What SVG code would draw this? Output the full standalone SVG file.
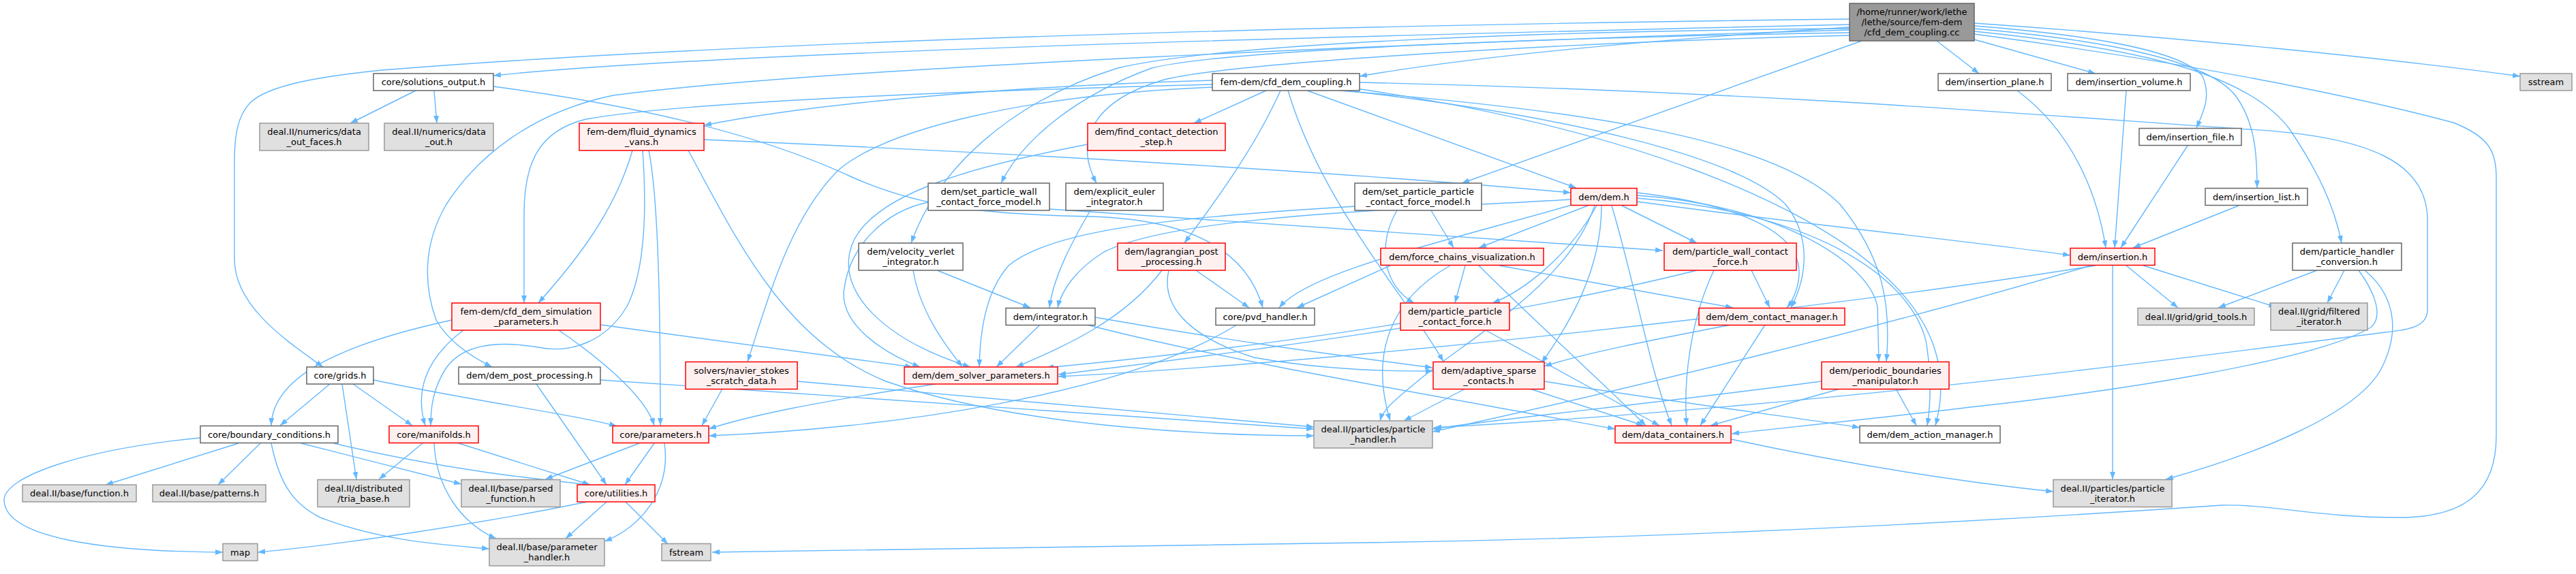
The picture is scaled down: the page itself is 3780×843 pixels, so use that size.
<svg xmlns="http://www.w3.org/2000/svg" width="3780" height="843" viewBox="0 0 3780 843">
<style>
.e{fill:none;stroke:#63b8ff;stroke-width:1.4;marker-end:url(#a)}
.n rect{stroke-width:1.5}
.w rect{fill:#ffffff;stroke:#666666}
.r rect{fill:#fff0f0;stroke:#ff0000}
.g rect{fill:#e0e0e0;stroke:#999999}
.t rect{fill:#999999;stroke:#666666}
text{font-family:"DejaVu Sans","Liberation Sans",sans-serif;font-size:13px;text-anchor:middle;fill:#000000}
</style>
<defs>
<marker id="a" markerWidth="11" markerHeight="8" refX="11" refY="4" orient="auto" markerUnits="userSpaceOnUse"><path d="M0,0 L11,4 L0,8 z" fill="#63b8ff"/></marker>
</defs>
<rect width="3780" height="843" fill="#ffffff"/>
<g id="edges">
<path class="e" d="M2714,36 C2200,48 1100,72 724,111"/>
<path class="e" d="M2714,28 C2200,34 1200,52 560,103 C470,112 395,125 368,150 C348,170 344,200 344,240 L344,380 C344,450 420,500 474,539"/>
<path class="e" d="M2714,40 C2400,60 2150,85 1995,112"/>
<path class="e" d="M2714,44 C2100,62 1200,100 900,140 C780,165 700,230 655,300 C620,360 622,420 640,470 C660,505 700,528 722,539"/>
<path class="e" d="M2732,60 L2145,269"/>
<path class="e" d="M2714,48 C2300,55 1800,72 1690,100 C1580,140 1500,205 1469,269"/>
<path class="e" d="M2714,52 C2300,62 1800,92 1705,118 C1605,148 1575,205 1609,269"/>
<path class="e" d="M2714,42 C2300,45 1800,62 1640,100 C1480,150 1375,250 1337,357"/>
<path class="e" d="M2842,60 L2904,108"/>
<path class="e" d="M2897,58 L3075,108"/>
<path class="e" d="M2897,38 C3050,50 3200,72 3232,112 C3245,142 3233,165 3223,188"/>
<path class="e" d="M2897,42 C3100,60 3240,90 3280,140 C3310,180 3312,230 3312,276"/>
<path class="e" d="M2897,46 C3150,72 3300,110 3360,190 C3400,250 3425,300 3436,357"/>
<path class="e" d="M2897,34 C3200,55 3500,85 3698,112"/>
<path class="e" d="M2897,50 C3200,90 3450,140 3600,180 C3650,200 3663,220 3663,260 L3663,640 C3663,720 3620,760 3520,760 C3400,760 3330,740 3260,742 C3000,760 2500,790 2000,797 C1600,803 1200,808 1045,811"/>
<path class="e" d="M1779,118 C1500,126 1200,150 1033,184"/>
<path class="e" d="M1779,124 C1400,134 1000,150 860,175 C790,192 770,240 769,310 L769,445"/>
<path class="e" d="M1858,133 L1752,181"/>
<path class="e" d="M1879,133 C1840,220 1780,300 1738,357"/>
<path class="e" d="M1918,133 L2313,276"/>
<path class="e" d="M1890,133 C1940,300 2060,430 2118,531"/>
<path class="e" d="M1966,133 C2300,160 2600,200 2700,300 C2765,380 2775,450 2768,531"/>
<path class="e" d="M1990,130 C2400,190 2650,300 2760,400 C2850,480 2858,560 2840,625"/>
<path class="e" d="M1975,133 C2300,170 2550,230 2620,300 C2660,350 2650,410 2628,452"/>
<path class="e" d="M1995,121 C2600,135 3000,170 3300,190 C3480,200 3560,240 3562,320 L3562,455 C3562,478 3540,484 3500,488 C3250,520 2700,595 2104,628"/>
<path class="e" d="M1779,128 C1500,140 1300,190 1230,250 C1160,320 1130,430 1097,531"/>
<path class="e" d="M610,133 L514,181"/>
<path class="e" d="M637,133 L641,181"/>
<path class="e" d="M724,127 C900,150 1100,190 1250,260 C1350,305 1450,315 1600,318 C1750,322 1830,370 1853,452"/>
<path class="e" d="M928,221 C900,320 830,400 790,445"/>
<path class="e" d="M943,221 C950,320 945,400 920,450 C890,500 840,520 790,510 C730,500 680,505 655,540 C635,570 632,600 632,625"/>
<path class="e" d="M952,221 C968,300 969,500 969,625"/>
<path class="e" d="M1033,205 C1500,225 2000,255 2305,283"/>
<path class="e" d="M1010,221 C1080,350 1150,500 1300,560 C1500,630 1800,640 1928,640"/>
<path class="e" d="M663,470 C480,510 400,560 398,625"/>
<path class="e" d="M680,485 C620,530 610,580 624,625"/>
<path class="e" d="M820,485 C900,540 950,590 960,625"/>
<path class="e" d="M881,477 L1339,539"/>
<path class="e" d="M1596,212 C1450,240 1280,280 1250,360 C1225,430 1300,500 1424,539"/>
<path class="e" d="M1362,297 C1300,310 1245,360 1238,430 C1236,480 1300,520 1350,539"/>
<path class="e" d="M1540,307 C1900,330 2200,350 2440,368"/>
<path class="e" d="M1600,309 C1570,360 1545,410 1540,452"/>
<path class="e" d="M1375,397 L1512,452"/>
<path class="e" d="M1340,397 C1350,460 1390,510 1412,539"/>
<path class="e" d="M1755,397 L1833,452"/>
<path class="e" d="M1705,397 C1650,470 1560,510 1491,539"/>
<path class="e" d="M1715,397 C1705,440 1730,490 1840,525 C1950,545 2050,545 2103,545"/>
<path class="e" d="M2100,309 L2133,364"/>
<path class="e" d="M2050,309 C2020,360 2030,420 2075,445"/>
<path class="e" d="M1990,303 C1700,320 1540,340 1480,390 C1445,430 1438,490 1437,539"/>
<path class="e" d="M2305,293 C2000,310 1720,320 1620,370 C1580,395 1558,425 1552,452"/>
<path class="e" d="M2310,300 C2100,360 1920,400 1877,452"/>
<path class="e" d="M2330,302 L2170,364"/>
<path class="e" d="M2343,302 C2300,380 2230,430 2190,445"/>
<path class="e" d="M2350,302 C2350,400 2300,480 2262,533"/>
<path class="e" d="M2340,302 C2300,420 2150,500 2080,560 C2050,585 2030,600 2025,618"/>
<path class="e" d="M2365,302 C2400,420 2420,540 2453,625"/>
<path class="e" d="M2380,302 L2490,357"/>
<path class="e" d="M2402,283 C2550,300 2640,340 2640,400 C2640,420 2632,440 2622,452"/>
<path class="e" d="M2402,287 C2600,300 2740,380 2755,450 L2757,531"/>
<path class="e" d="M2402,291 C2650,310 2800,400 2826,500 C2836,560 2832,600 2828,625"/>
<path class="e" d="M2402,296 C2650,330 2900,355 3038,375"/>
<path class="e" d="M2040,390 L1903,452"/>
<path class="e" d="M2128,390 C2040,440 2010,520 2040,618"/>
<path class="e" d="M2150,390 L2135,445"/>
<path class="e" d="M2200,390 L2543,452"/>
<path class="e" d="M2170,390 C2250,470 2350,560 2415,625"/>
<path class="e" d="M2570,397 L2597,452"/>
<path class="e" d="M2490,397 C2200,470 1800,520 1553,550"/>
<path class="e" d="M2515,397 C2480,470 2470,560 2475,625"/>
<path class="e" d="M2180,485 L2435,625"/>
<path class="e" d="M2055,475 C1900,500 1700,525 1535,540"/>
<path class="e" d="M2540,477 C2420,500 2320,520 2266,538"/>
<path class="e" d="M2590,477 L2495,625"/>
<path class="e" d="M1526,477 L1462,539"/>
<path class="e" d="M1607,466 C1800,500 1950,520 2102,540"/>
<path class="e" d="M1595,477 C1800,530 2100,580 2370,630"/>
<path class="e" d="M1815,477 C1650,580 1300,630 1040,640"/>
<path class="e" d="M2150,571 L2060,618"/>
<path class="e" d="M2245,571 L2412,625"/>
<path class="e" d="M2266,560 C2450,590 2650,615 2729,628"/>
<path class="e" d="M2673,560 C2450,590 2200,615 2102,630"/>
<path class="e" d="M2700,571 L2510,625"/>
<path class="e" d="M2782,571 L2812,625"/>
<path class="e" d="M2540,645 C2750,690 2900,710 3013,722"/>
<path class="e" d="M3120,390 L3196,452"/>
<path class="e" d="M3145,390 L3340,451"/>
<path class="e" d="M3100,390 L3100,704"/>
<path class="e" d="M3068,390 C2800,470 2400,570 2102,634"/>
<path class="e" d="M3075,390 C2700,450 2000,530 1553,553"/>
<path class="e" d="M3400,397 L3255,452"/>
<path class="e" d="M3440,397 L3415,445"/>
<path class="e" d="M3470,397 C3510,430 3525,480 3495,540 C3460,610 3300,670 3178,704"/>
<path class="e" d="M3461,397 C3478,420 3500,460 3480,480 C3400,530 3100,575 2900,597 C2750,615 2600,630 2541,637"/>
<path class="e" d="M2960,133 C3050,200 3080,300 3090,364"/>
<path class="e" d="M3120,133 L3103,364"/>
<path class="e" d="M3210,214 L3112,364"/>
<path class="e" d="M3285,302 L3130,364"/>
<path class="e" d="M484,564 L411,625"/>
<path class="e" d="M502,564 L523,704"/>
<path class="e" d="M518,564 L605,625"/>
<path class="e" d="M548,558 C700,590 850,610 905,626"/>
<path class="e" d="M787,564 L890,712"/>
<path class="e" d="M881,558 C1300,590 1700,615 1928,630"/>
<path class="e" d="M1060,571 L1030,625"/>
<path class="e" d="M1170,560 C1500,590 1800,615 1928,627"/>
<path class="e" d="M1373,564 C1200,590 1100,610 1040,630"/>
<path class="e" d="M350,651 L155,712"/>
<path class="e" d="M382,651 L320,712"/>
<path class="e" d="M398,651 C410,710 430,740 470,760 C560,795 650,800 718,806"/>
<path class="e" d="M294,643 C120,660 5,700 6,735 C8,790 150,810 327,811"/>
<path class="e" d="M442,651 L677,711"/>
<path class="e" d="M490,651 C650,690 800,705 866,712"/>
<path class="e" d="M620,651 L556,704"/>
<path class="e" d="M637,651 C640,720 680,770 728,791"/>
<path class="e" d="M673,651 L866,712"/>
<path class="e" d="M938,651 L800,704"/>
<path class="e" d="M960,651 L917,712"/>
<path class="e" d="M975,651 C985,720 940,775 887,795"/>
<path class="e" d="M862,737 C700,770 500,800 378,811"/>
<path class="e" d="M890,737 L830,791"/>
<path class="e" d="M918,737 L980,799"/>
</g>
<g id="n_top" class="n t"><rect x="2714" y="5" width="183" height="55"/><text x="2805.5" y="22">/home/runner/work/lethe</text><text x="2805.5" y="37">/lethe/source/fem-dem</text><text x="2805.5" y="52">/cfd_dem_coupling.cc</text></g>
<g id="n_solutions_output" class="n w"><rect x="548" y="108" width="176" height="25"/><text x="636" y="125">core/solutions_output.h</text></g>
<g id="n_data_out_faces" class="n g"><rect x="381" y="181" width="160" height="40"/><text x="461" y="198">deal.II/numerics/data</text><text x="461" y="213">_out_faces.h</text></g>
<g id="n_data_out" class="n g"><rect x="564" y="181" width="160" height="40"/><text x="644" y="198">deal.II/numerics/data</text><text x="644" y="213">_out.h</text></g>
<g id="n_vans" class="n r"><rect x="850" y="181" width="183" height="40"/><text x="941.5" y="198">fem-dem/fluid_dynamics</text><text x="941.5" y="213">_vans.h</text></g>
<g id="n_cfd_dem_coupling" class="n w"><rect x="1779" y="108" width="216" height="25"/><text x="1887" y="125">fem-dem/cfd_dem_coupling.h</text></g>
<g id="n_find_contact" class="n r"><rect x="1596" y="181" width="202" height="40"/><text x="1697" y="198">dem/find_contact_detection</text><text x="1697" y="213">_step.h</text></g>
<g id="n_set_pw" class="n w"><rect x="1362" y="269" width="178" height="40"/><text x="1451" y="286">dem/set_particle_wall</text><text x="1451" y="301">_contact_force_model.h</text></g>
<g id="n_explicit_euler" class="n w"><rect x="1564" y="269" width="143" height="40"/><text x="1635.5" y="286">dem/explicit_euler</text><text x="1635.5" y="301">_integrator.h</text></g>
<g id="n_set_pp" class="n w"><rect x="1988" y="269" width="186" height="40"/><text x="2081" y="286">dem/set_particle_particle</text><text x="2081" y="301">_contact_force_model.h</text></g>
<g id="n_velocity_verlet" class="n w"><rect x="1260" y="357" width="153" height="40"/><text x="1336.5" y="374">dem/velocity_verlet</text><text x="1336.5" y="389">_integrator.h</text></g>
<g id="n_lagrangian" class="n r"><rect x="1640" y="357" width="158" height="40"/><text x="1719" y="374">dem/lagrangian_post</text><text x="1719" y="389">_processing.h</text></g>
<g id="n_dem" class="n r"><rect x="2305" y="276.5" width="97" height="25"/><text x="2353.5" y="293.5">dem/dem.h</text></g>
<g id="n_insertion_plane" class="n w"><rect x="2844" y="108" width="166" height="25"/><text x="2927" y="125">dem/insertion_plane.h</text></g>
<g id="n_insertion_volume" class="n w"><rect x="3034" y="108" width="180" height="25"/><text x="3124" y="125">dem/insertion_volume.h</text></g>
<g id="n_sstream" class="n g"><rect x="3698" y="108" width="76" height="25"/><text x="3736" y="125">sstream</text></g>
<g id="n_insertion_file" class="n w"><rect x="3139" y="188.5" width="150" height="25"/><text x="3214" y="205.5">dem/insertion_file.h</text></g>
<g id="n_insertion_list" class="n w"><rect x="3236" y="276.5" width="150" height="25"/><text x="3311" y="293.5">dem/insertion_list.h</text></g>
<g id="n_insertion" class="n r"><rect x="3038" y="364.5" width="124" height="25"/><text x="3100" y="381.5">dem/insertion.h</text></g>
<g id="n_phc" class="n w"><rect x="3364" y="357" width="160" height="40"/><text x="3444" y="374">dem/particle_handler</text><text x="3444" y="389">_conversion.h</text></g>
<g id="n_force_chains" class="n r"><rect x="2026" y="364.5" width="239" height="25"/><text x="2145.5" y="381.5">dem/force_chains_visualization.h</text></g>
<g id="n_pwcf" class="n r"><rect x="2442" y="357" width="194" height="40"/><text x="2539" y="374">dem/particle_wall_contact</text><text x="2539" y="389">_force.h</text></g>
<g id="n_cfd_sim_params" class="n r"><rect x="663" y="445" width="218" height="40"/><text x="772" y="462">fem-dem/cfd_dem_simulation</text><text x="772" y="477">_parameters.h</text></g>
<g id="n_integrator" class="n w"><rect x="1476" y="452.5" width="131" height="25"/><text x="1541.5" y="469.5">dem/integrator.h</text></g>
<g id="n_pvd" class="n w"><rect x="1784" y="452.5" width="145" height="25"/><text x="1856.5" y="469.5">core/pvd_handler.h</text></g>
<g id="n_ppcf" class="n r"><rect x="2055" y="445" width="160" height="40"/><text x="2135" y="462">dem/particle_particle</text><text x="2135" y="477">_contact_force.h</text></g>
<g id="n_dcm" class="n r"><rect x="2493" y="452.5" width="214" height="25"/><text x="2600" y="469.5">dem/dem_contact_manager.h</text></g>
<g id="n_grid_tools" class="n g"><rect x="3137" y="452.5" width="171" height="25"/><text x="3222.5" y="469.5">deal.II/grid/grid_tools.h</text></g>
<g id="n_filtered" class="n g"><rect x="3332" y="445" width="142" height="40"/><text x="3403" y="462">deal.II/grid/filtered</text><text x="3403" y="477">_iterator.h</text></g>
<g id="n_grids" class="n w"><rect x="450" y="539" width="98" height="25"/><text x="499" y="556">core/grids.h</text></g>
<g id="n_dpp" class="n w"><rect x="673" y="539" width="208" height="25"/><text x="777" y="556">dem/dem_post_processing.h</text></g>
<g id="n_nssd" class="n r"><rect x="1006" y="531.5" width="164" height="40"/><text x="1088" y="548.5">solvers/navier_stokes</text><text x="1088" y="563.5">_scratch_data.h</text></g>
<g id="n_dsp" class="n r"><rect x="1327" y="539" width="225" height="25"/><text x="1439.5" y="556">dem/dem_solver_parameters.h</text></g>
<g id="n_asc" class="n r"><rect x="2103" y="531.5" width="163" height="40"/><text x="2184.5" y="548.5">dem/adaptive_sparse</text><text x="2184.5" y="563.5">_contacts.h</text></g>
<g id="n_pbm" class="n r"><rect x="2673" y="531.5" width="187" height="40"/><text x="2766.5" y="548.5">dem/periodic_boundaries</text><text x="2766.5" y="563.5">_manipulator.h</text></g>
<g id="n_bc" class="n w"><rect x="294" y="625.5" width="202" height="25"/><text x="395" y="642.5">core/boundary_conditions.h</text></g>
<g id="n_manifolds" class="n r"><rect x="571" y="625.5" width="131" height="25"/><text x="636.5" y="642.5">core/manifolds.h</text></g>
<g id="n_parameters" class="n r"><rect x="899" y="625.5" width="141" height="25"/><text x="969.5" y="642.5">core/parameters.h</text></g>
<g id="n_particle_handler" class="n g"><rect x="1928" y="618" width="174" height="40"/><text x="2015" y="635">deal.II/particles/particle</text><text x="2015" y="650">_handler.h</text></g>
<g id="n_data_containers" class="n r"><rect x="2370" y="625.5" width="170" height="25"/><text x="2455" y="642.5">dem/data_containers.h</text></g>
<g id="n_dam" class="n w"><rect x="2729" y="625.5" width="206" height="25"/><text x="2832" y="642.5">dem/dem_action_manager.h</text></g>
<g id="n_function" class="n g"><rect x="33" y="712" width="167" height="25"/><text x="116.5" y="729">deal.II/base/function.h</text></g>
<g id="n_patterns" class="n g"><rect x="224" y="712" width="166" height="25"/><text x="307" y="729">deal.II/base/patterns.h</text></g>
<g id="n_tria_base" class="n g"><rect x="466" y="704.5" width="135" height="40"/><text x="533.5" y="721.5">deal.II/distributed</text><text x="533.5" y="736.5">/tria_base.h</text></g>
<g id="n_parsed_function" class="n g"><rect x="677" y="704.5" width="145" height="40"/><text x="749.5" y="721.5">deal.II/base/parsed</text><text x="749.5" y="736.5">_function.h</text></g>
<g id="n_utilities" class="n r"><rect x="847" y="712" width="114" height="25"/><text x="904" y="729">core/utilities.h</text></g>
<g id="n_particle_iterator" class="n g"><rect x="3013" y="704.5" width="174" height="40"/><text x="3100" y="721.5">deal.II/particles/particle</text><text x="3100" y="736.5">_iterator.h</text></g>
<g id="n_map" class="n g"><rect x="327" y="798.5" width="51" height="25"/><text x="352.5" y="815.5">map</text></g>
<g id="n_parameter_handler" class="n g"><rect x="718" y="791" width="169" height="40"/><text x="802.5" y="808">deal.II/base/parameter</text><text x="802.5" y="823">_handler.h</text></g>
<g id="n_fstream" class="n g"><rect x="971" y="798.5" width="72" height="25"/><text x="1007" y="815.5">fstream</text></g>
</svg>
